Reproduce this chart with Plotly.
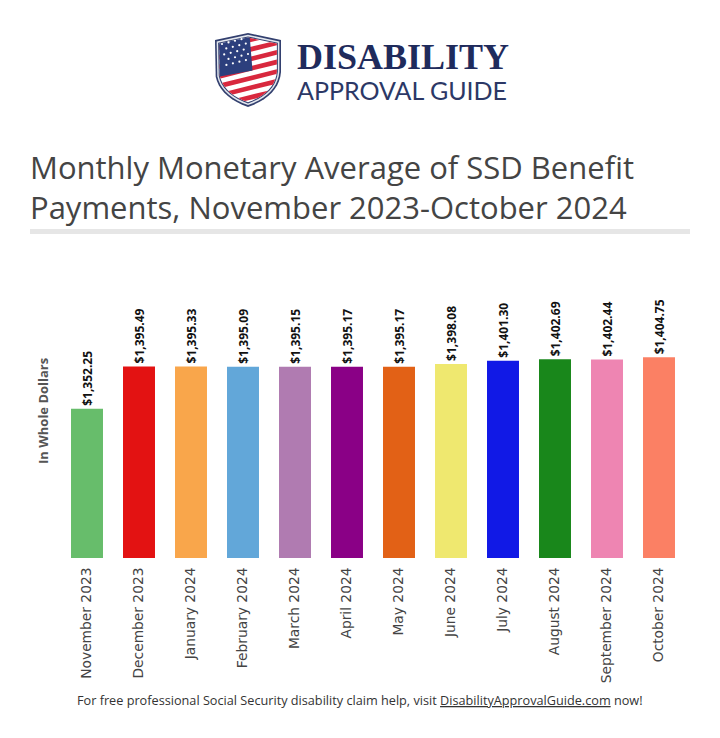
import plotly.graph_objects as go

# ---- data ----
months = ["November 2023", "December 2023", "January 2024", "February 2024", "March 2024",
          "April 2024", "May 2024", "June 2024", "July 2024", "August 2024",
          "September 2024", "October 2024"]
payments = [1352.25, 1395.49, 1395.33, 1395.09, 1395.15, 1395.17, 1395.17,
            1398.08, 1401.30, 1402.69, 1402.44, 1404.75]
bar_colors = ["#67bd6b", "#e31212", "#f9a64b", "#62a7d9", "#b07bb1", "#8a0086",
              "#e26116", "#efe86f", "#1119e6", "#19871b", "#ee85b2", "#fb8064"]

# the page body has an 8px margin: the figure is placed at (8, 8) in the window
OFF = 8
W, H = 712, 730


def px(x):
    return (x - OFF) / W


def py(y):
    return 1 - (y - OFF) / H


def path(pts):
    return "M " + " L ".join(f"{px(x):.5f},{py(y):.5f}" for x, y in pts) + " Z"


def quad(p0, c, p1, n=10):
    out = []
    for i in range(1, n + 1):
        t = i / n
        x = (1 - t) ** 2 * p0[0] + 2 * (1 - t) * t * c[0] + t ** 2 * p1[0]
        y = (1 - t) ** 2 * p0[1] + 2 * (1 - t) * t * c[1] + t ** 2 * p1[1]
        out.append((x, y))
    return out


def clip(subject, clipper):
    def inside(p, a, b):
        return (b[0] - a[0]) * (p[1] - a[1]) - (b[1] - a[1]) * (p[0] - a[0]) >= 0

    def inter(p, q, a, b):
        x1, y1 = p; x2, y2 = q; x3, y3 = a; x4, y4 = b
        d = (x1 - x2) * (y3 - y4) - (y1 - y2) * (x3 - x4)
        if abs(d) < 1e-12:
            return q
        t = ((x1 - x3) * (y3 - y4) - (y1 - y3) * (x3 - x4)) / d
        return (x1 + t * (x2 - x1), y1 + t * (y2 - y1))

    out = subject
    n = len(clipper)
    for i in range(n):
        a, b = clipper[i], clipper[(i + 1) % n]
        inp = out
        out = []
        if not inp:
            break
        s = inp[-1]
        for e in inp:
            if inside(e, a, b):
                if not inside(s, a, b):
                    out.append(inter(s, e, a, b))
                out.append(e)
            elif inside(s, a, b):
                out.append(inter(s, e, a, b))
            s = e
    return out


# shield outline (window pixel coords)
shield = [(215, 40), (248, 33), (281, 40), (281, 72)]
shield += quad((281, 72), (279, 96), (248, 107))
shield += quad((248, 107), (217, 96), (215, 72))[:-1]
cx, cy = 248, 69


def scaled(poly, s):
    return [(cx + (x - cx) * s, cy + (y - cy) * s) for x, y in poly]


def oriented(poly):
    a = sum(poly[i][0] * poly[(i + 1) % len(poly)][1] - poly[(i + 1) % len(poly)][0] * poly[i][1]
            for i in range(len(poly)))
    return poly if a > 0 else poly[::-1]


shapes = []
shapes.append(dict(type="path", xref="paper", yref="paper", path=path(shield),
                   fillcolor="#33406f", line=dict(width=0)))
shapes.append(dict(type="path", xref="paper", yref="paper", path=path(scaled(shield, 0.95)),
                   fillcolor="#e4e8ef", line=dict(width=0)))
shapes.append(dict(type="path", xref="paper", yref="paper", path=path(scaled(shield, 0.905)),
                   fillcolor="#33406f", line=dict(width=0)))
flag = scaled(shield, 0.875)
shapes.append(dict(type="path", xref="paper", yref="paper", path=path(flag),
                   fillcolor="#ffffff", line=dict(width=0)))
flag_c = oriented(flag)

slope = 0.25
for k in range(8):
    v0 = 38 + 9.6 * k
    v1 = v0 + 4.8
    band = [(200, v0 - slope * (200 - 248)), (300, v0 - slope * (300 - 248)),
            (300, v1 - slope * (300 - 248)), (200, v1 - slope * (200 - 248))]
    poly = clip(oriented(band), flag_c)
    if len(poly) >= 3:
        shapes.append(dict(type="path", xref="paper", yref="paper", path=path(poly),
                           fillcolor="#d8283e", line=dict(width=0)))

# canton
canton = [(200, 40 - slope * (200 - 248) - 20), (249, 28), (252.5, 70.5),
          (200, 68 - slope * (200 - 248))]
poly = clip(oriented(canton), flag_c)
shapes.append(dict(type="path", xref="paper", yref="paper", path=path(poly),
                   fillcolor="#2c3f7d", line=dict(width=0)))
for r in range(5):
    for c in range(4):
        sx = 222 + c * 6.5 + (3.2 if r % 2 else 0) + 0.2 * r * 5.5
        sy = 44 + r * 5.5 - slope * (sx - 222)
        if sx > 248:
            continue
        shapes.append(dict(type="circle", xref="paper", yref="paper",
                           x0=px(sx - 1.1), x1=px(sx + 1.1), y0=py(sy - 1.1), y1=py(sy + 1.1),
                           fillcolor="#ffffff", line=dict(width=0)))

# grey rule under title
shapes.append(dict(type="rect", xref="paper", yref="paper", x0=px(30), x1=px(690),
                   y0=py(234), y1=py(229), fillcolor="#e6e6e6", line=dict(width=0)))

fig = go.Figure(go.Bar(
    x=months, y=payments, marker=dict(color=bar_colors, line=dict(width=0)),
    texttemplate="$%{y:,.2f}", textposition="outside", textangle=-90,
    textfont=dict(family="Open Sans", size=12, color="#111111", weight="bold"),
    cliponaxis=False, constraintext="none",
))

logo_text = ("<span style='font-family:\"Liberation Serif\";font-size:36px;font-weight:bold;"
             "color:#1f2b5c'>DISABILITY</span><br>"
             "<span style='font-family:Lato;font-size:25px;color:#2c3866'>APPROVAL GUIDE</span>")

annotations = [
    dict(text="In Whole Dollars", x=px(43), y=py(411), xref="paper", yref="paper",
         showarrow=False, textangle=-90, xanchor="center", yanchor="middle",
         font=dict(family="Open Sans", size=13, color="#555555", weight="bold")),
    dict(text="Monthly Monetary Average of SSD Benefit<br>Payments, November 2023-October 2024",
         x=px(28), y=py(144), xref="paper", yref="paper", showarrow=False,
         xanchor="left", yanchor="top", align="left",
         font=dict(family="Open Sans", size=31, color="#444444")),
    dict(text=logo_text, x=px(295), y=py(71), xref="paper", yref="paper", showarrow=False,
         xanchor="left", yanchor="middle", align="left",
         font=dict(family="Lato", size=24, color="#2c3866")),
    dict(text="For free professional Social Security disability claim help, visit "
              "<span style='text-decoration:underline'>DisabilityApprovalGuide.com</span> now!",
         x=px(360), y=py(700), xref="paper", yref="paper", showarrow=False,
         xanchor="center", yanchor="middle",
         font=dict(family="Open Sans", size=12.7, color="#333333")),
]

fig.update_layout(
    width=W, height=H, margin=dict(l=0, r=0, t=0, b=0),
    paper_bgcolor="white", plot_bgcolor="white",
    showlegend=False, bargap=0.385,
    xaxis=dict(domain=[px(61), px(685)], tickangle=-90, showgrid=False, showline=False,
               zeroline=False, ticks="outside", ticklen=3, tickcolor="rgba(0,0,0,0)",
               tickfont=dict(family="DejaVu Sans", size=13.8, color="#444444")),
    yaxis=dict(domain=[py(558), py(264)], range=[1200, 1500], visible=False),
    shapes=shapes, annotations=annotations,
)

fig.write_html("out.html")
